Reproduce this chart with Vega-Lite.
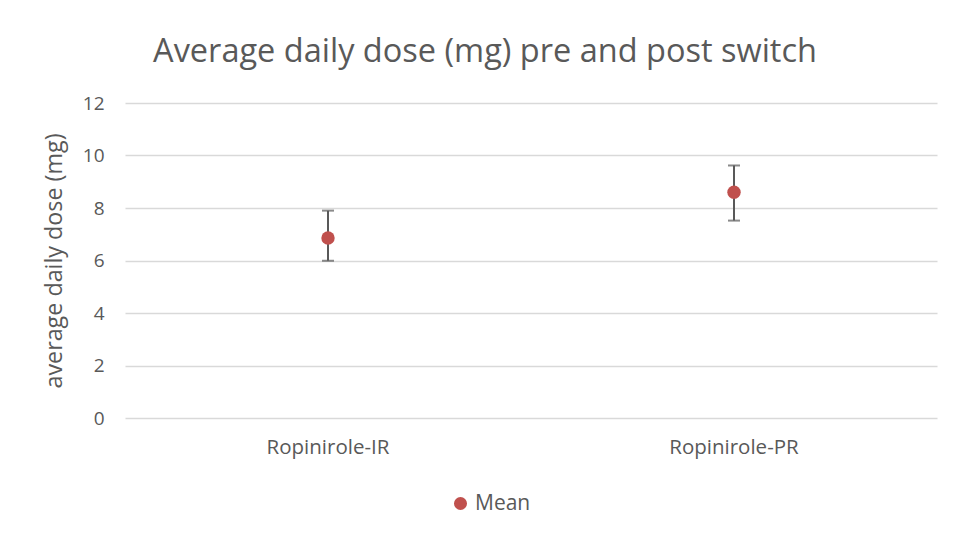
{
  "$schema": "https://vega.github.io/schema/vega-lite/v6.json",
  "autosize": "none",
  "width": 812,
  "height": 315,
  "padding": {"left": 125, "top": 103, "right": 28, "bottom": 124},
  "background": "white",
  "title": {
    "text": "Average daily dose (mg) pre and post switch",
    "font": "Open Sans",
    "fontSize": 32.5,
    "fontWeight": "normal",
    "color": "#595959",
    "anchor": "middle",
    "dx": -46,
    "offset": 26
  },
  "data": {
    "values": [
      {"drug": "Ropinirole-IR", "series": "Mean", "mean": 6.86, "lo": 5.99, "hi": 7.90},
      {"drug": "Ropinirole-PR", "series": "Mean", "mean": 8.60, "lo": 7.52, "hi": 9.62}
    ]
  },
  "encoding": {
    "x": {
      "field": "drug",
      "type": "nominal",
      "scale": {"paddingInner": 0, "paddingOuter": 0},
      "axis": {
        "title": null,
        "labelAngle": 0,
        "labelFont": "Open Sans",
        "labelFontSize": 20.5,
        "labelColor": "#595959",
        "labelPadding": 19,
        "domain": false,
        "ticks": false,
        "grid": false
      }
    }
  },
  "layer": [
    {
      "mark": {"type": "rule", "color": "#595959", "strokeWidth": 2},
      "encoding": {
        "y": {
          "field": "lo",
          "type": "quantitative",
          "scale": {"domain": [0, 12]},
          "axis": {
            "title": "average daily dose (mg)",
            "titleFont": "Open Sans",
            "titleFontSize": 23.3,
            "titleFontWeight": "normal",
            "titleColor": "#595959",
            "titlePadding": 16,
            "values": [0, 2, 4, 6, 8, 10, 12],
            "labelFont": "Open Sans",
            "labelFontSize": 19,
            "labelColor": "#595959",
            "labelPadding": 21,
            "domain": false,
            "ticks": false,
            "grid": true,
            "gridColor": "#d9d9d9",
            "gridWidth": 1.3
          }
        },
        "y2": {"field": "hi"}
      }
    },
    {
      "mark": {"type": "tick", "color": "#595959", "thickness": 2, "size": 12, "orient": "horizontal"},
      "encoding": {"y": {"field": "lo", "type": "quantitative"}}
    },
    {
      "mark": {"type": "tick", "color": "#595959", "thickness": 2, "size": 12, "orient": "horizontal"},
      "encoding": {"y": {"field": "hi", "type": "quantitative"}}
    },
    {
      "mark": {"type": "point", "filled": true, "shape": "circle", "size": 180, "opacity": 1},
      "encoding": {
        "y": {"field": "mean", "type": "quantitative"},
        "color": {
          "field": "series",
          "type": "nominal",
          "scale": {"range": ["#C0504D"]},
          "legend": {
            "title": null,
            "orient": "none",
            "legendX": 325,
            "legendY": 390,
            "direction": "horizontal",
            "labelFont": "Open Sans",
            "labelFontSize": 21,
            "labelColor": "#595959",
            "symbolSize": 170,
            "symbolType": "circle",
            "symbolOpacity": 1
          }
        }
      }
    }
  ],
  "config": {
    "view": {"stroke": null}
  }
}
